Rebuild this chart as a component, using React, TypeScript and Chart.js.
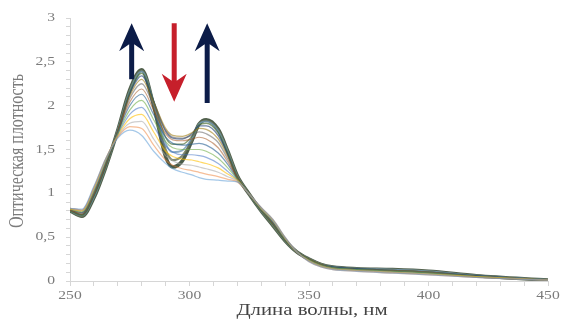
import React, { useEffect, useRef } from "react";
import { Chart, registerables } from "chart.js";

Chart.register(...registerables);

// Wavelength grid, nm
const wavelengths = [250, 255, 260, 265, 270, 275, 280, 285, 290, 293, 297, 301, 304, 307, 312, 316, 320, 325, 330, 335, 340, 345, 350, 355, 360, 370, 385, 400, 420, 450];

// Absorbance spectra (first = lightest, last = final)
const spectrum01 = [0.83, 0.82, 1.08, 1.40, 1.63, 1.72, 1.66, 1.48, 1.34, 1.28, 1.24, 1.21, 1.18, 1.16, 1.15, 1.14, 1.13, 0.99, 0.84, 0.70, 0.50, 0.33, 0.22, 0.16, 0.13, 0.11, 0.09, 0.07, 0.04, 0.01];
const spectrum02 = [0.83, 0.81, 1.07, 1.40, 1.64, 1.76, 1.74, 1.55, 1.38, 1.32, 1.28, 1.26, 1.24, 1.22, 1.19, 1.16, 1.13, 0.99, 0.84, 0.70, 0.50, 0.33, 0.22, 0.16, 0.13, 0.11, 0.09, 0.07, 0.04, 0.01];
const spectrum03 = [0.83, 0.81, 1.06, 1.39, 1.65, 1.80, 1.82, 1.62, 1.43, 1.37, 1.33, 1.32, 1.30, 1.28, 1.24, 1.19, 1.14, 0.99, 0.83, 0.69, 0.49, 0.33, 0.23, 0.17, 0.14, 0.12, 0.10, 0.08, 0.04, 0.01];
const spectrum04 = [0.82, 0.80, 1.05, 1.39, 1.66, 1.85, 1.90, 1.70, 1.48, 1.42, 1.39, 1.38, 1.36, 1.34, 1.29, 1.22, 1.15, 0.99, 0.83, 0.69, 0.49, 0.33, 0.23, 0.17, 0.14, 0.12, 0.10, 0.08, 0.05, 0.01];
const spectrum05 = [0.82, 0.80, 1.04, 1.38, 1.67, 1.90, 1.98, 1.77, 1.54, 1.47, 1.44, 1.44, 1.43, 1.41, 1.34, 1.25, 1.15, 0.99, 0.83, 0.68, 0.49, 0.33, 0.23, 0.17, 0.14, 0.12, 0.10, 0.08, 0.05, 0.01];
const spectrum06 = [0.82, 0.79, 1.03, 1.37, 1.68, 1.95, 2.06, 1.84, 1.59, 1.52, 1.50, 1.50, 1.50, 1.48, 1.40, 1.29, 1.16, 0.99, 0.82, 0.68, 0.48, 0.33, 0.24, 0.18, 0.15, 0.13, 0.11, 0.09, 0.05, 0.01];
const spectrum07 = [0.82, 0.78, 1.02, 1.36, 1.69, 2.00, 2.13, 1.90, 1.64, 1.57, 1.55, 1.56, 1.57, 1.55, 1.46, 1.33, 1.16, 0.99, 0.82, 0.67, 0.48, 0.33, 0.24, 0.18, 0.15, 0.13, 0.11, 0.09, 0.05, 0.01];
const spectrum08 = [0.81, 0.78, 1.01, 1.35, 1.70, 2.04, 2.19, 1.95, 1.68, 1.61, 1.60, 1.62, 1.64, 1.62, 1.52, 1.36, 1.17, 0.99, 0.82, 0.67, 0.48, 0.33, 0.24, 0.18, 0.15, 0.13, 0.11, 0.09, 0.05, 0.01];
const spectrum09 = [0.81, 0.77, 1.00, 1.34, 1.70, 2.08, 2.25, 2.00, 1.72, 1.64, 1.63, 1.66, 1.70, 1.68, 1.58, 1.39, 1.17, 0.99, 0.81, 0.66, 0.47, 0.33, 0.24, 0.18, 0.15, 0.13, 0.12, 0.10, 0.05, 0.01];
const spectrum10 = [0.81, 0.76, 0.99, 1.33, 1.71, 2.11, 2.30, 2.04, 1.74, 1.66, 1.65, 1.69, 1.74, 1.73, 1.62, 1.42, 1.18, 0.99, 0.81, 0.65, 0.47, 0.33, 0.25, 0.19, 0.15, 0.13, 0.12, 0.10, 0.05, 0.01];
const spectrum11 = [0.81, 0.76, 0.98, 1.32, 1.71, 2.13, 2.34, 2.05, 1.71, 1.63, 1.62, 1.68, 1.77, 1.77, 1.66, 1.44, 1.18, 0.99, 0.81, 0.65, 0.47, 0.33, 0.25, 0.19, 0.16, 0.14, 0.12, 0.10, 0.06, 0.01];
const spectrum12 = [0.80, 0.75, 0.97, 1.31, 1.71, 2.15, 2.37, 2.05, 1.64, 1.56, 1.56, 1.65, 1.78, 1.80, 1.69, 1.46, 1.19, 0.99, 0.80, 0.64, 0.46, 0.33, 0.25, 0.19, 0.16, 0.14, 0.12, 0.10, 0.06, 0.01];
const spectrum13 = [0.80, 0.75, 0.96, 1.31, 1.72, 2.16, 2.39, 2.04, 1.57, 1.47, 1.49, 1.63, 1.79, 1.82, 1.71, 1.47, 1.19, 0.99, 0.80, 0.64, 0.46, 0.33, 0.25, 0.19, 0.16, 0.14, 0.13, 0.11, 0.06, 0.01];
const spectrum14 = [0.80, 0.74, 0.96, 1.30, 1.72, 2.17, 2.40, 2.02, 1.50, 1.38, 1.43, 1.61, 1.79, 1.83, 1.72, 1.48, 1.20, 0.99, 0.80, 0.63, 0.46, 0.33, 0.25, 0.19, 0.16, 0.14, 0.13, 0.11, 0.06, 0.01];
const spectrum15 = [0.80, 0.74, 0.95, 1.30, 1.72, 2.18, 2.41, 2.00, 1.42, 1.30, 1.37, 1.60, 1.79, 1.84, 1.73, 1.48, 1.20, 0.99, 0.80, 0.63, 0.46, 0.33, 0.25, 0.19, 0.16, 0.14, 0.13, 0.11, 0.06, 0.01];

const spectra = [spectrum01, spectrum02, spectrum03, spectrum04, spectrum05, spectrum06, spectrum07, spectrum08, spectrum09, spectrum10, spectrum11, spectrum12, spectrum13, spectrum14, spectrum15];

// Axis labels
const xTickLabels = [250, 300, 350, 400, 450];
const yTickLabels = [0, 0.5, 1, 1.5, 2, 2.5, 3];
const xTitle = "Длина волны, нм";
const yTitle = "Оптическая плотность";

// Arrows: wavelength, tail value, head value
const arrowNm = [275.8, 293.6, 307.4];
const arrowTail = [2.3, 2.94, 2.03];
const arrowHead = [2.94, 2.045, 2.94];

// Styles
const lineColors = [
  "rgba(91,155,213,0.55)",
  "rgba(237,125,49,0.5)",
  "rgba(165,165,165,0.55)",
  "rgba(255,192,0,0.6)",
  "rgba(68,114,196,0.55)",
  "rgba(112,173,71,0.6)",
  "rgba(37,94,145,0.6)",
  "rgba(158,72,14,0.5)",
  "rgba(99,99,99,0.55)",
  "rgba(153,115,0,0.55)",
  "rgba(38,68,120,0.65)",
  "rgba(67,104,43,0.65)",
  "rgba(110,150,180,0.8)",
  "rgba(110,120,90,0.85)",
  "rgba(70,85,65,0.95)",
];
const lineWidths = [1.2, 1.2, 1.2, 1.2, 1.2, 1.2, 1.2, 1.2, 1.3, 1.3, 1.4, 1.5, 1.8, 2.2, 3.6];
const arrowColors = ["#0c1c48", "#c61f2b", "#0c1c48"];

const FONT = "'Liberation Serif', 'Times New Roman', serif";
const STRETCH = 1.3;

function drawText(ctx: CanvasRenderingContext2D, text: string, x: number, y: number, align: CanvasTextAlign, rotate = false) {
  ctx.save();
  ctx.translate(x, y);
  ctx.scale(STRETCH, 1);
  if (rotate) ctx.rotate(-Math.PI / 2);
  ctx.textAlign = align;
  ctx.textBaseline = "middle";
  ctx.fillText(text, 0, 0);
  ctx.restore();
}

const overlayPlugin = {
  id: "overlay",
  afterDraw(chart: any) {
    const ctx: CanvasRenderingContext2D = chart.ctx;
    const xs = chart.scales.x;
    const ys = chart.scales.y;
    // arrows
    for (let i = 0; i < arrowNm.length; i++) {
      const x = xs.getPixelForValue(arrowNm[i]);
      const yT = ys.getPixelForValue(arrowTail[i]);
      const yH = ys.getPixelForValue(arrowHead[i]);
      const dir = yH < yT ? -1 : 1;
      const headLen = 25;
      const headHalf = 12.5;
      const shaftHalf = 2.5;
      const yBase = yH - dir * headLen;
      ctx.save();
      ctx.fillStyle = arrowColors[i];
      ctx.beginPath();
      ctx.moveTo(x - shaftHalf, yT);
      ctx.lineTo(x + shaftHalf, yT);
      ctx.lineTo(x + shaftHalf, yBase + dir * 4);
      ctx.lineTo(x + headHalf, yBase - dir * 3);
      ctx.lineTo(x, yH);
      ctx.lineTo(x - headHalf, yBase - dir * 3);
      ctx.lineTo(x - shaftHalf, yBase + dir * 4);
      ctx.closePath();
      ctx.fill();
      ctx.restore();
    }
    // tick labels
    ctx.save();
    ctx.fillStyle = "#7b7b7b";
    ctx.font = `12px ${FONT}`;
    for (const v of yTickLabels) {
      drawText(ctx, String(v).replace(".", ","), 55, ys.getPixelForValue(v), "right");
    }
    for (const v of xTickLabels) {
      drawText(ctx, String(v), xs.getPixelForValue(v), 296, "center");
    }
    ctx.fillStyle = "#444444";
    ctx.font = `16px ${FONT}`;
    drawText(ctx, xTitle, (chart.chartArea.left + chart.chartArea.right) / 2 + 3, 311, "center");
    ctx.fillStyle = "#7b7b7b";
    ctx.font = `16px ${FONT}`;
    drawText(ctx, yTitle, 18, 151, "center", true);
    ctx.restore();
  },
};

export default function App() {
  const ref = useRef<HTMLCanvasElement | null>(null);
  useEffect(() => {
    if (!ref.current) return;
    const datasets: any[] = spectra.map((s, i) => ({
      data: wavelengths.map((w, j) => ({ x: w, y: s[j] })),
      borderColor: lineColors[i],
      borderWidth: lineWidths[i],
      pointRadius: 0,
      cubicInterpolationMode: "monotone",
      fill: false,
    }));
    datasets.push({
      data: wavelengths.map((w, j) => ({ x: w, y: spectrum15[j] })),
      borderColor: "rgba(150,185,175,0.9)",
      borderWidth: 1.3,
      pointRadius: 0,
      cubicInterpolationMode: "monotone",
      fill: false,
    });
    const chart = new Chart(ref.current, {
      type: "line",
      data: { datasets },
      plugins: [overlayPlugin],
      options: {
        animation: false,
        responsive: false,
        devicePixelRatio: 1,
        layout: { padding: { left: 0, right: 14, top: 18, bottom: 0 } },
        plugins: { legend: { display: false }, tooltip: { enabled: false }, title: { display: false } },
        scales: {
          x: {
            type: "linear",
            min: 250,
            max: 450,
            ticks: { stepSize: 10, display: false, autoSkip: false },
            grid: { drawOnChartArea: false, drawTicks: true, tickLength: 5, color: "#d6d6d6" },
            border: { color: "#d6d6d6", width: 1 },
            afterFit: (s: any) => { s.height = 43; },
          },
          y: {
            type: "linear",
            min: 0,
            max: 3,
            ticks: { stepSize: 0.1, display: false, autoSkip: false },
            grid: { drawOnChartArea: false, drawTicks: true, tickLength: 4, color: "#d6d6d6" },
            border: { color: "#d6d6d6", width: 1 },
            afterFit: (s: any) => { s.width = 70; },
          },
        },
      },
    });
    return () => chart.destroy();
  }, []);
  return (
    <div style={{ position: "fixed", left: 0, top: 0, width: 562, height: 324, background: "#fff" }}>
      <canvas ref={ref} width={562} height={324} style={{ display: "block" }} />
    </div>
  );
}
